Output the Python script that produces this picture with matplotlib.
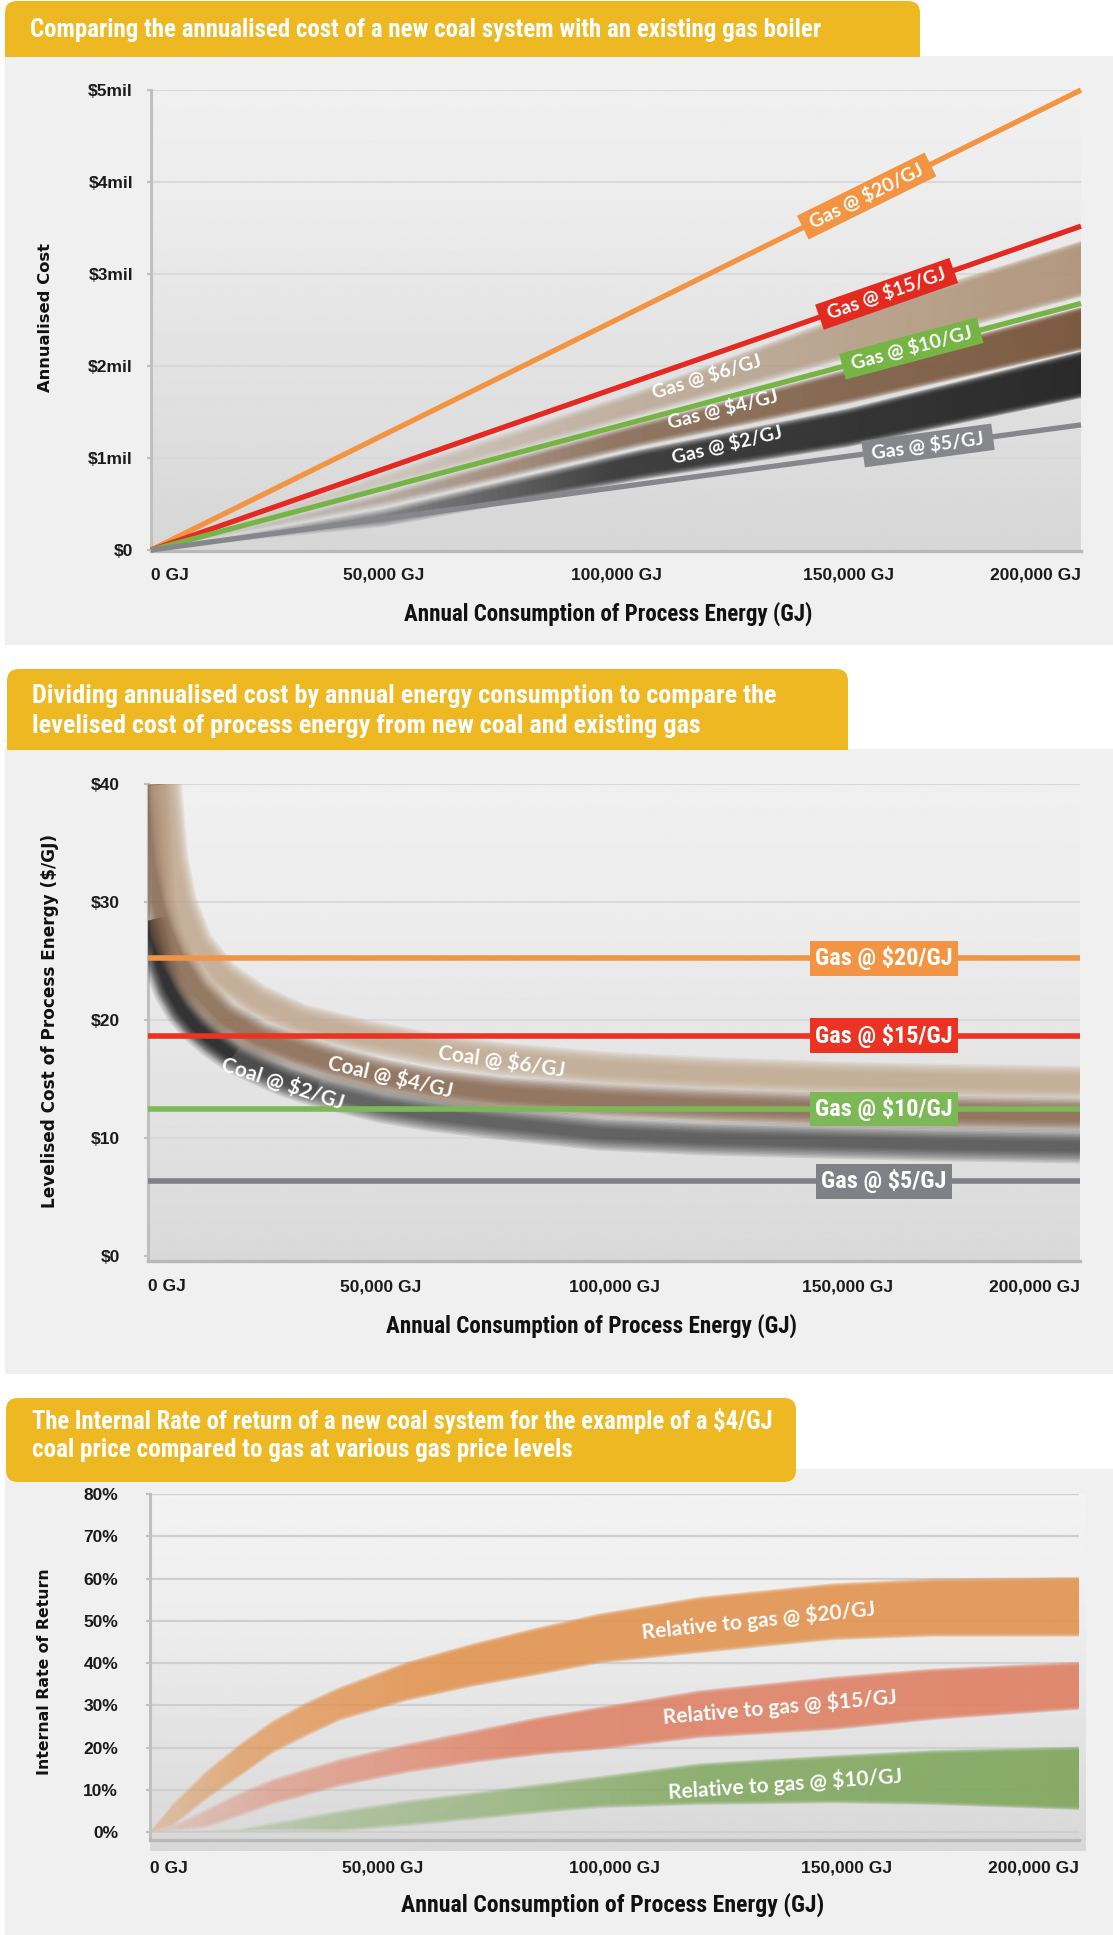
import numpy as np
import matplotlib
matplotlib.use("Agg")
import matplotlib.pyplot as plt
from matplotlib import font_manager as fm
from matplotlib.patches import FancyBboxPatch, Rectangle, PathPatch
from matplotlib.path import Path
from matplotlib.transforms import Affine2D
from matplotlib.colors import to_rgb

W, H, DPI = 1113, 1935, 100

# ---------------------------------------------------------------- data
gj_ticks = [0, 50000, 100000, 150000, 200000]
gj_labels = ["0 GJ", "50,000 GJ", "100,000 GJ", "150,000 GJ", "200,000 GJ"]
gj_label_align = ["left", "center", "center", "center", "right"]

# Chart 1: annualised cost ($ million)
cost_ticks = [0, 1, 2, 3, 4, 5]
cost_labels = ["$0", "$1mil", "$2mil", "$3mil", "$4mil", "$5mil"]
gas_line_x = [0, 200000]
gas20_cost = [0.0, 5.00]
gas15_cost = [0.0, 3.52]
gas10_cost = [0.0, 2.68]
gas5_cost = [0.0, 1.36]

coal_cost_x = [0, 50000, 105000, 150000, 200000]
coal6_cost_lo = [0, 0.67, 1.45, 2.08, 2.75]
coal6_cost_hi = [0, 0.85, 1.74, 2.57, 3.36]
coal4_cost_lo = [0, 0.47, 1.12, 1.59, 2.17]
coal4_cost_hi = [0, 0.63, 1.38, 1.97, 2.64]
coal2_cost_lo = [0, 0.25, 0.76, 1.12, 1.65]
coal2_cost_hi = [0, 0.45, 1.09, 1.54, 2.16]

# Chart 2: levelised cost ($/GJ)
lcoe_ticks = [0, 10, 20, 30, 40]
lcoe_labels = ["$0", "$10", "$20", "$30", "$40"]
gas20_lcoe = 25.25
gas15_lcoe = 18.7
gas10_lcoe = 12.5
gas5_lcoe = 6.35

coal2_lcoe_x = [500, 1500, 2900, 4700, 7200, 10400, 14000, 18300, 24000, 29800, 36200,
                43300, 50500, 61200, 75500, 97000, 118500, 147000, 168500, 200000]
coal2_lcoe_y = [28.5, 26.8, 24.5, 22.6, 20.9, 19.4, 18.2, 17.0, 15.9, 14.9, 14.1,
                13.4, 12.7, 12.0, 11.3, 10.4, 10.0, 9.7, 9.5, 9.3]
coal4_lcoe_x = [1000, 2200, 4000, 6500, 10400, 16200, 24000, 32600, 39800, 50500,
                61200, 75500, 97000, 118500, 147000, 168500, 200000]
coal4_lcoe_y = [40.0, 30.2, 27.4, 25.1, 22.6, 20.3, 18.5, 17.3, 16.4, 15.3,
                14.5, 13.8, 13.2, 12.8, 12.4, 12.2, 12.0]
coal6_lcoe_x = [3600, 5100, 6900, 10400, 16100, 23300, 32600, 46900, 61200, 75500,
                97000, 118500, 147000, 168500, 200000]
coal6_lcoe_y = [40.0, 33.6, 30.0, 26.5, 23.7, 21.7, 20.0, 18.6, 17.5, 16.7,
                15.95, 15.5, 15.1, 14.9, 14.7]

# Chart 3: internal rate of return (%), $4/GJ coal
irr_ticks = [0, 10, 20, 30, 40, 50, 60, 70, 80]
irr_labels = ["0%", "10%", "20%", "30%", "40%", "50%", "60%", "70%", "80%"]
irr20_x = [0, 5000, 12200, 19400, 26500, 33700, 40900, 55300, 69600, 84000,
           97000, 118400, 147100, 168600, 200000]
irr20_hi = [0, 7.0, 14.7, 21.0, 26.5, 30.8, 34.4, 40.3, 44.7, 48.6,
            51.8, 55.7, 58.9, 60.0, 60.4]
irr20_lo = [0, 1.3, 7.6, 13.1, 18.6, 22.6, 26.3, 31.0, 34.4, 37.2,
            39.9, 42.3, 45.4, 46.2, 46.2]
irr15_x = [0, 5000, 12200, 19400, 26500, 40900, 55300, 69600, 84000,
           97000, 118400, 147100, 168600, 200000]
irr15_hi = [0, 1.8, 5.6, 9.5, 12.7, 17.4, 21.0, 24.1, 27.3,
            29.7, 33.6, 36.8, 38.7, 40.3]
irr15_lo = [0, 0.0, 0.9, 3.6, 6.4, 10.7, 13.9, 16.3, 18.2,
            19.4, 22.2, 24.1, 26.5, 28.9]
irr10_x = [5000, 19400, 26500, 40900, 55300, 69600, 84000, 97000, 118400,
           147100, 168600, 200000]
irr10_hi = [0, 0.9, 2.4, 5.2, 7.6, 9.5, 11.5, 13.3, 16.3, 18.2, 19.4, 20.2]
irr10_lo = [0, 0.0, 0.0, 0.0, 1.3, 2.8, 4.4, 5.6, 6.4, 6.8, 6.4, 5.2]

# ---------------------------------------------------------------- fonts
_fonts = fm.fontManager.ttflist
_names = {f.name for f in _fonts}
_COND = ("condensed", "semi-condensed", "extra-condensed", "ultra-condensed")


def _narrow_font():
    for fam in ("Liberation Sans Narrow", "Roboto Condensed", "Open Sans Condensed",
                "Noto Sans Condensed", "Arial Narrow"):
        if fam in _names:
            return dict(family=fam, weight="bold")
    for fam in ("Noto Sans", "DejaVu Sans", "Open Sans", "Roboto"):
        if any(f.name == fam and str(f.stretch) in _COND for f in _fonts):
            return dict(family=fam, stretch="condensed", weight="bold")
    for f in _fonts:
        if "Condensed" in f.name or "Narrow" in f.name:
            return dict(family=f.name, weight="bold")
    return dict(family="Roboto", weight="bold")


NARROW = _narrow_font()
LABEL = dict(family="Lato" if "Lato" in _names else "Open Sans", weight="bold")
TICK = dict(family="Liberation Sans", weight="bold", size=12.5, color="#1a1a1a")
YTITLE = dict(family="DejaVu Sans", weight="bold", size=12, color="#111111")
plt.rcParams["font.family"] = ["Liberation Sans", "DejaVu Sans"]

BANNER = "#EDB822"
PANEL = "#F0F0F0"

fig = plt.figure(figsize=(W / DPI, H / DPI), dpi=DPI, facecolor="white")
renderer = fig.canvas.get_renderer()
PX = Affine2D().scale(1, -1).translate(0, H)   # top-left pixel coordinates


def frac(x0, y0, x1, y1):
    return [x0 / W, 1 - y1 / H, (x1 - x0) / W, (y1 - y0) / H]


def fit(t, target, vertical=False):
    bb = t.get_window_extent(renderer)
    span = bb.height if vertical else bb.width
    t.set_fontsize(t.get_fontsize() * target / span)
    return t


def px_rect(x0, y0, x1, y1, color, z=-10):
    fig.patches.append(Rectangle((x0, y0), x1 - x0, y1 - y0, transform=PX,
                                 fc=color, ec="none", zorder=z))


def banner(x0, y0, x1, y1, round_bottom=False):
    fig.patches.append(FancyBboxPatch((x0, y0), x1 - x0, y1 - y0,
                                      boxstyle="round,pad=0,rounding_size=12",
                                      transform=PX, fc=BANNER, ec="none", zorder=-8))
    if not round_bottom:
        px_rect(x0, (y0 + y1) / 2, x1, y1, BANNER, z=-8)


def gradient_bg(x0, y0, x1, y1, stops, values):
    bg = fig.add_axes(frac(x0, y0, x1, y1), zorder=-5)
    t = np.linspace(0, 1, 256)
    col = np.interp(t, stops, values)[:, None]
    bg.imshow(col, cmap="gray", vmin=0, vmax=1, aspect="auto",
              interpolation="bilinear", extent=[0, 1, 0, 1], origin="upper")
    bg.set_axis_off()


def style_axes(ax, yt, ylabels, ypad, xpad, grid_color="#D9D9D9", grid_lw=1.5):
    ax.set_facecolor("none")
    for s in ("top", "right"):
        ax.spines[s].set_visible(False)
    ax.spines["left"].set_color("#BFBFBF")
    ax.spines["left"].set_linewidth(2.2)
    ax.spines["bottom"].set_color("#B8B8B8")
    ax.spines["bottom"].set_linewidth(2.4)
    ax.set_yticks(yt)
    ax.set_yticklabels(ylabels, **TICK)
    ax.set_xticks(gj_ticks)
    ax.set_xticklabels(gj_labels, **TICK)
    for lbl, ha in zip(ax.get_xticklabels(), gj_label_align):
        lbl.set_ha(ha)
    ax.tick_params(axis="y", length=3, width=1.5, color="#BFBFBF", pad=ypad)
    ax.tick_params(axis="x", length=0, pad=xpad)
    ax.yaxis.grid(True, color=grid_color, lw=grid_lw)
    ax.xaxis.grid(False)
    ax.set_axisbelow(True)


def soft_band(ax, x, lo, hi, color, ramp_x, ramp_a, edge, layers, z):
    """Filled band with feathered edges and an opacity ramp along x."""
    x = np.asarray(x, float)
    lo = np.asarray(lo, float)
    hi = np.asarray(hi, float)
    mid = (lo + hi) / 2
    cols = np.linspace(x[0], x[-1], 400)
    ramp = np.clip(np.interp(cols, ramp_x, ramp_a), 0, 0.999)
    rgba = np.zeros((1, cols.size, 4))
    rgba[..., :3] = to_rgb(color)
    rgba[0, :, 3] = 1 - (1 - ramp) ** (1.0 / layers)
    y0, y1 = lo.min(), hi.max()
    for k in range(layers):
        d = edge * k / layers
        lo_k = np.minimum(lo + d, mid)
        hi_k = np.maximum(hi - d, mid)
        verts = np.concatenate([np.column_stack([x, hi_k]),
                                np.column_stack([x[::-1], lo_k[::-1]]),
                                [[x[0], hi_k[0]]]])
        clip = PathPatch(Path(verts, closed=True), transform=ax.transData,
                         fc="none", ec="none")
        im = ax.imshow(rgba, extent=[x[0], x[-1], y0, y1], aspect="auto",
                       interpolation="bilinear", origin="lower", zorder=z)
        im.set_clip_path(clip)


def soft_line(ax, x, y, color, outer_px, inner_px, alpha, layers=9, z=3):
    a = 1 - (1 - alpha) ** (1.0 / layers)
    for k in range(layers):
        w = outer_px - (outer_px - inner_px) * k / (layers - 1)
        ax.plot(x, y, color=color, lw=w * 72 / DPI, alpha=a, zorder=z,
                solid_capstyle="butt", solid_joinstyle="round")


def screen_angle(ax, x, y):
    p = ax.transData.transform(np.column_stack([x, y]))
    return np.degrees(np.arctan2(p[-1, 1] - p[0, 1], p[-1, 0] - p[0, 0]))


# ---------------------------------------------------------------- page furniture
px_rect(5, 56, W, 645, PANEL)
px_rect(5, 749, W, 1374, PANEL)
px_rect(5, 1469, W, H, PANEL)
banner(5, 1, 920, 57)
banner(7, 669, 848, 750)
banner(6, 1398, 796, 1482, round_bottom=True)

TITLE = dict(color="white", size=16.5, transform=PX, va="baseline", ha="left", **NARROW)
titles = [(30, 36.5, "Comparing the annualised cost of a new coal system with an existing gas boiler", 790),
          (32, 703, "Dividing annualised cost by annual energy consumption to compare the", 744),
          (32, 733, "levelised cost of process energy from new coal and existing gas", 669),
          (32, 1428.5, "The Internal Rate of return of a new coal system for the example of a $4/GJ", 742),
          (32, 1457, "coal price compared to gas at various gas price levels", 539)]
for tx, ty, s, wpx in titles:
    fit(fig.text(tx, ty, s, **TITLE), wpx)

XTITLE = dict(color="#111111", size=16.5, transform=PX, ha="center", va="center", **NARROW)
for tx, ty, wpx in [(608, 614, 408), (592, 1326, 409), (613, 1905, 420)]:
    fit(fig.text(tx, ty, "Annual Consumption of Process Energy (GJ)", **XTITLE), wpx)

for tx, ty, s, hpx in [(46, 317, "Annualised Cost", 149),
                       (50, 1021, "Levelised Cost of Process Energy ($/GJ)", 374),
                       (45, 1672, "Internal Rate of Return", 206)]:
    fit(fig.text(tx, ty, s, rotation=90, ha="center", va="center", transform=PX, **YTITLE),
        hpx, vertical=True)

# ---------------------------------------------------------------- chart 1
gradient_bg(151, 90, 1081, 551, [0, 0.25, 0.7, 1], [0.94, 0.925, 0.875, 0.84])
ax1 = fig.add_axes(frac(151, 90, 1081, 551))
style_axes(ax1, cost_ticks, cost_labels, ypad=10, xpad=12)
ax1.set_xlim(0, 200000)
ax1.set_ylim(-0.011, 5)

soft_band(ax1, coal_cost_x, coal6_cost_lo, coal6_cost_hi, "#B0957A",
          [0, 30000, 100000, 200000], [0, 0.15, 0.6, 0.95], 0.08, 8, 2.0)
soft_band(ax1, coal_cost_x, coal4_cost_lo, coal4_cost_hi, "#7A573D",
          [0, 30000, 100000, 200000], [0, 0.2, 0.75, 0.97], 0.07, 8, 2.1)
soft_band(ax1, coal_cost_x, coal2_cost_lo, coal2_cost_hi, "#262626",
          [0, 20000, 100000, 200000], [0, 0.25, 0.85, 0.97], 0.08, 8, 2.2)

gas_series_1 = [(gas20_cost, "#F39443", "Gas @ $20/GJ", 153900),
                (gas15_cost, "#E42A20", "Gas @ $15/GJ", 158200),
                (gas10_cost, "#77B446", "Gas @ $10/GJ", 163500),
                (gas5_cost, "#86878B", "Gas @ $5/GJ", 167100)]
for vals, col, lab, lx in gas_series_1:
    ax1.plot(gas_line_x, vals, color=col, lw=3.8, zorder=4, clip_on=False,
             solid_capstyle="butt")
for vals, col, lab, lx in gas_series_1:
    ang = screen_angle(ax1, gas_line_x, vals)
    ax1.text(lx, np.interp(lx, gas_line_x, vals), " " + lab + " ", rotation=ang,
             rotation_mode="anchor", ha="center", va="center", color="white",
             size=14, zorder=6, bbox=dict(boxstyle="square,pad=0.22", fc=col, ec="none"),
             **LABEL)

for lab, lx, ly, rot in [("Gas @ $6/GJ", 119500, 1.88, 17),
                         ("Gas @ $4/GJ", 123100, 1.53, 14),
                         ("Gas @ $2/GJ", 123900, 1.14, 13.5)]:
    ax1.text(lx, ly, lab, rotation=rot, rotation_mode="anchor", ha="center",
             va="center", color="white", size=14, zorder=6, **LABEL)

# ---------------------------------------------------------------- chart 2
gradient_bg(148, 784, 1080, 1261, [0, 0.3, 0.7, 1], [0.94, 0.925, 0.885, 0.85])
ax2 = fig.add_axes(frac(148, 784.5, 1080, 1261))
style_axes(ax2, lcoe_ticks, lcoe_labels, ypad=17, xpad=13)

soft_line(ax2, coal2_lcoe_x, coal2_lcoe_y, "#262626", 34, 10, 0.66, z=3.0)
soft_line(ax2, coal2_lcoe_x[:11], coal2_lcoe_y[:11], "#111111", 26, 8, 0.25, layers=5, z=3.01)
soft_line(ax2, coal2_lcoe_x[:8], coal2_lcoe_y[:8], "#000000", 24, 8, 0.3, layers=5, z=3.02)
soft_line(ax2, coal4_lcoe_x, coal4_lcoe_y, "#84634A", 34, 12, 0.82, z=3.1)
soft_line(ax2, coal6_lcoe_x, coal6_lcoe_y, "#C0A68C", 34, 12, 0.82, z=3.2)

gas_series_2 = [(gas20_lcoe, "#F39443", "Gas @ $20/GJ"),
                (gas15_lcoe, "#EB3323", "Gas @ $15/GJ"),
                (gas10_lcoe, "#7DB857", "Gas @ $10/GJ"),
                (gas5_lcoe, "#808186", "Gas @ $5/GJ")]
box_texts = []
for val, col, lab in gas_series_2:
    ax2.plot(gas_line_x, [val, val], color=col, lw=4.0, zorder=4, solid_capstyle="butt")
    box_texts.append(ax2.text(157900, val, lab, ha="center", va="center", color="white",
                              size=17, zorder=6, **NARROW))
fit(box_texts[0], 137)
for t, (val, col, lab) in zip(box_texts, gas_series_2):
    t.set_fontsize(box_texts[0].get_fontsize())
    t.set_bbox(dict(boxstyle="square,pad=0.22", fc=col, ec="none"))

for lab, lx, ly, rot in [("Coal @ $2/GJ", 29000, 14.65, -18),
                         ("Coal @ $4/GJ", 51900, 15.2, -13),
                         ("Coal @ $6/GJ", 75900, 16.5, -8)]:
    ax2.text(lx, ly, lab, rotation=rot, rotation_mode="anchor", ha="center",
             va="center", color="white", size=15, zorder=6, **LABEL)

ax2.set_xlim(0, 200000)
ax2.set_ylim(-0.4, 40)

# ---------------------------------------------------------------- chart 3
gradient_bg(150, 1494, 1086, 1851, [0, 0.3, 0.75, 1], [0.95, 0.935, 0.88, 0.845])
ax3 = fig.add_axes(frac(150, 1494, 1079, 1840))
style_axes(ax3, irr_ticks, irr_labels, ypad=20, xpad=15, grid_color="#CFCFCF", grid_lw=1.6)

soft_band(ax3, irr20_x, irr20_lo, irr20_hi, "#E3934F",
          [0, 20000, 60000, 200000], [0.35, 0.7, 0.88, 0.9], 1.1, 6, 2.0)
soft_band(ax3, irr15_x, irr15_lo, irr15_hi, "#DF8064",
          [0, 30000, 80000, 200000], [0.2, 0.55, 0.85, 0.9], 1.1, 6, 2.1)
soft_band(ax3, irr10_x, irr10_lo, irr10_hi, "#80A85E",
          [5000, 40000, 120000, 200000], [0.15, 0.45, 0.85, 0.92], 1.1, 6, 2.2)

for lab, lx, ly, rot in [("Relative to gas @ $20/GJ", 131000, 50.2, 5.8),
                         ("Relative to gas @ $15/GJ", 135600, 29.7, 5.0),
                         ("Relative to gas @ $10/GJ", 136700, 11.5, 4.0)]:
    ax3.text(lx, ly, lab, rotation=rot, rotation_mode="anchor", ha="center",
             va="center", color="white", size=15, zorder=6, **LABEL)

ax3.set_xlim(0, 200000)
ax3.set_ylim(-1.89, 80)

fig.savefig("out.png", dpi=DPI, facecolor="white")
